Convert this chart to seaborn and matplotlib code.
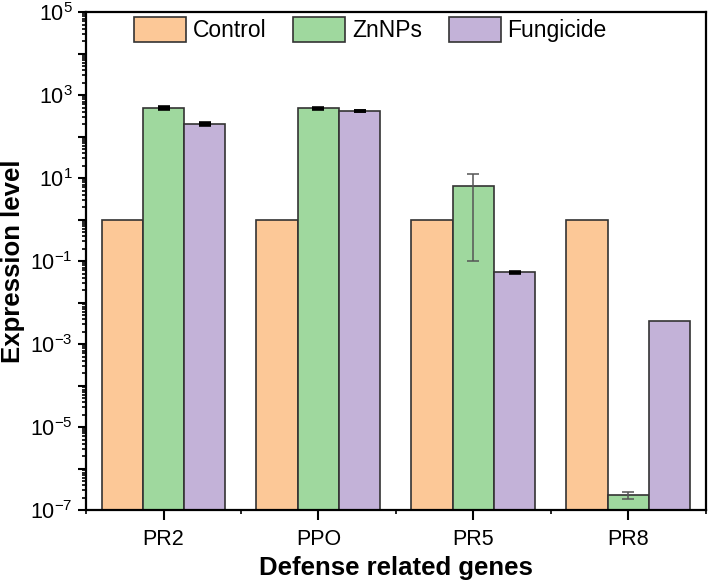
import numpy as np
import pandas as pd
import matplotlib
matplotlib.use('Agg')
from matplotlib import pyplot as plt
from matplotlib import ticker
import seaborn as sns

# values
genes = ['PR2', 'PPO', 'PR5', 'PR8']
treatments = ['Control', 'ZnNPs', 'Fungicide']
control = [1.0, 1.0, 1.0, 1.0]
control_err = [0, 0, 0, 0]
znnps = [494, 480, 6.4, 2.3e-7]
znnps_err = [30, 12, 6.3, 0.45e-7]
fungicide = [200, 417, 0.0534, 0.0036]
fungicide_err = [8, 10, 0.002, 0]
colors = ['#FCC897', '#9FD89E', '#C3B2D8']

sns.set_style('ticks')
plt.rcParams['font.family'] = ['Liberation Sans', 'DejaVu Sans']
plt.rcParams['mathtext.fontset'] = 'custom'
plt.rcParams['mathtext.rm'] = 'Liberation Sans'
plt.rcParams['mathtext.it'] = 'Liberation Sans:italic'
plt.rcParams['mathtext.bf'] = 'Liberation Sans:bold'
for key in ['text.color', 'axes.labelcolor', 'xtick.color', 'ytick.color']:
    plt.rcParams[key] = 'black'

data = pd.DataFrame({
    'gene': genes * 3,
    'treatment': [t for t in treatments for _ in genes],
    'value': control + znnps + fungicide,
})
errs = [control_err, znnps_err, fungicide_err]

fig = plt.figure(figsize=(7.08, 5.82), dpi=100)
ax = fig.add_axes([0.1215, 0.1237, 0.8755, 0.8553])

sns.barplot(data=data, x='gene', y='value', hue='treatment', order=genes,
            hue_order=treatments, palette=colors, errorbar=None, width=0.8,
            edgecolor='#333333', linewidth=1.2, saturation=1, ax=ax)
ax.set_yscale('log')

# error bars on top of seaborn's bars
bar_conts = list(ax.containers)
for k, cont in enumerate(bar_conts):
    xs = [p.get_x() + p.get_width() / 2 for p in cont]
    hs = [p.get_height() for p in cont]
    for x, h, e in zip(xs, hs, errs[k]):
        if e == 0:
            continue
        thin = e / h > 0.1   # big relative errors drawn thin and grey
        col = '#555555' if thin else 'black'
        ax.errorbar(x, h, yerr=e, fmt='none', ecolor=col, elinewidth=1.1,
                    capsize=4, capthick=1.1 if thin else 2.6, zorder=5)

ax.set_ylim(1e-7, 1e5)
ax.set_xlim(-0.5, len(genes) - 0.5)

ax.yaxis.set_major_locator(ticker.LogLocator(base=10, numticks=20))
ax.yaxis.set_minor_locator(ticker.LogLocator(base=10, subs=np.arange(2, 10), numticks=20))


def fmt(v, pos):
    e = int(round(np.log10(v)))
    return r'$10^{%d}$' % e if e % 2 else ''


ax.yaxis.set_major_formatter(ticker.FuncFormatter(fmt))
ax.yaxis.set_minor_formatter(ticker.NullFormatter())
ax.xaxis.set_minor_locator(ticker.FixedLocator(np.arange(len(genes) + 1) - 0.5))

ax.tick_params(axis='both', which='major', direction='out', length=6, width=1.5,
               labelsize=15.5, color='black')
ax.tick_params(axis='both', which='minor', direction='out', length=3, width=1.2,
               color='black')
ax.tick_params(axis='x', which='major', length=7, pad=7)

for s in ax.spines.values():
    s.set_linewidth(1.6)
    s.set_color('black')
    s.set_visible(True)

ax.set_xlabel('Defense related genes', fontsize=18.5, fontweight='bold', labelpad=4)
ax.set_ylabel('Expression level', fontsize=18.5, fontweight='bold', labelpad=4)

ax.legend(loc='upper left', bbox_to_anchor=(0.077, 0.99), ncol=3, frameon=False,
          fontsize=16.5, handlelength=2.27, handleheight=1.3, handletextpad=0.29,
          columnspacing=1.18, borderpad=0, borderaxespad=0)

fig.savefig('out.png', dpi=100)
